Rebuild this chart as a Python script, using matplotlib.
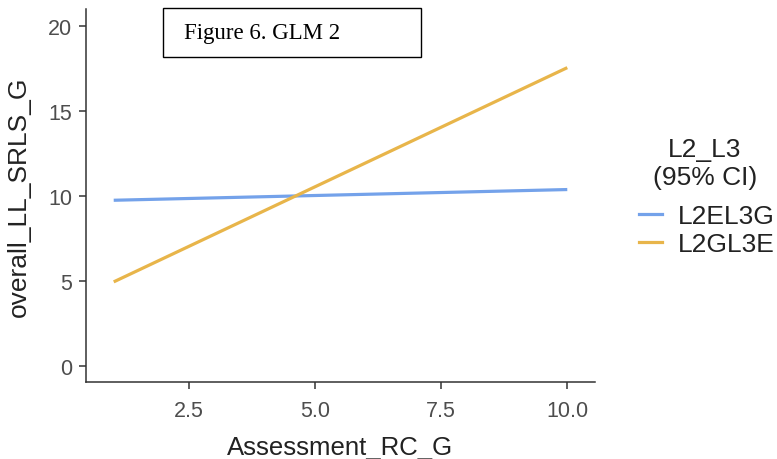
import matplotlib
matplotlib.use("Agg")
import matplotlib.pyplot as plt
from matplotlib.patches import Rectangle
from matplotlib.lines import Line2D

# predicted lines from the GLM
x_vals = [1.0, 10.0]
groups = ["L2EL3G", "L2GL3E"]
y_l2el3g = [9.75, 10.38]
y_l2gl3e = [4.95, 17.55]
colors = ["#74A2EA", "#E8B54A"]

x_ticks = [2.5, 5.0, 7.5, 10.0]
y_ticks = [0, 5, 10, 15, 20]

plt.rcParams['font.family'] = ['Liberation Sans', 'DejaVu Sans']
grey = "#4d4d4d"
W, H = 777, 460

fig = plt.figure(figsize=(7.77, 4.60), dpi=100)
ax = fig.add_axes([86/W, 77/H, (595-86)/W, (383-10)/H])

for yv, c in zip([y_l2el3g, y_l2gl3e], colors):
    ax.plot(x_vals, yv, color=c, linewidth=2.3, solid_capstyle='butt')

ax.set_xlim(0.45, 10.55)
ax.set_ylim(-0.94, 21.0)
ax.set_xticks(x_ticks)
ax.set_xticklabels(["2.5", "5.0", "7.5", "10.0"])
ax.set_yticks(y_ticks)
ax.tick_params(axis='both', colors="#333333", labelcolor=grey, labelsize=15.5,
               length=5, width=1.1)
ax.tick_params(axis='x', pad=8)
ax.tick_params(axis='y', pad=5)
for s in ['top', 'right']:
    ax.spines[s].set_visible(False)
for s in ['left', 'bottom']:
    ax.spines[s].set_color("#333333")
    ax.spines[s].set_linewidth(1.1)

ax.set_ylabel("overall_LL_SRLS_G", fontsize=19, color="#222222")
ax.yaxis.set_label_coords(-0.108, 0.5)
ax.set_xlabel("Assessment_RC_G", fontsize=18.5, color="#222222")
ax.xaxis.set_label_coords(0.5, -0.143)

# figure caption box
ax.add_patch(Rectangle((1.98, 18.2), 5.12, 2.85, fill=False, edgecolor='black',
                       linewidth=1.0, clip_on=False))
ax.text(2.4, 19.6, "Figure 6. GLM 2", family=['Liberation Serif'], fontsize=16.5,
        va='center', ha='left', color='black')

# legend title and entries
fig.text(705/W, 1 - 164/H, "L2_L3\n(95% CI)", ha='center', va='center',
         multialignment='center', fontsize=19, color="#222222", linespacing=1.2)
handles = [Line2D([0], [0], color=c, linewidth=2.3) for c in colors]
leg = fig.legend(handles, groups, loc='center left',
                 bbox_to_anchor=(639/W, 1 - 231/H), frameon=False, fontsize=19,
                 handlelength=0.87, handletextpad=0.6, labelspacing=0.15,
                 borderpad=0, borderaxespad=0)
for t in leg.get_texts():
    t.set_color("#222222")

fig.savefig("out.png", dpi=100)
